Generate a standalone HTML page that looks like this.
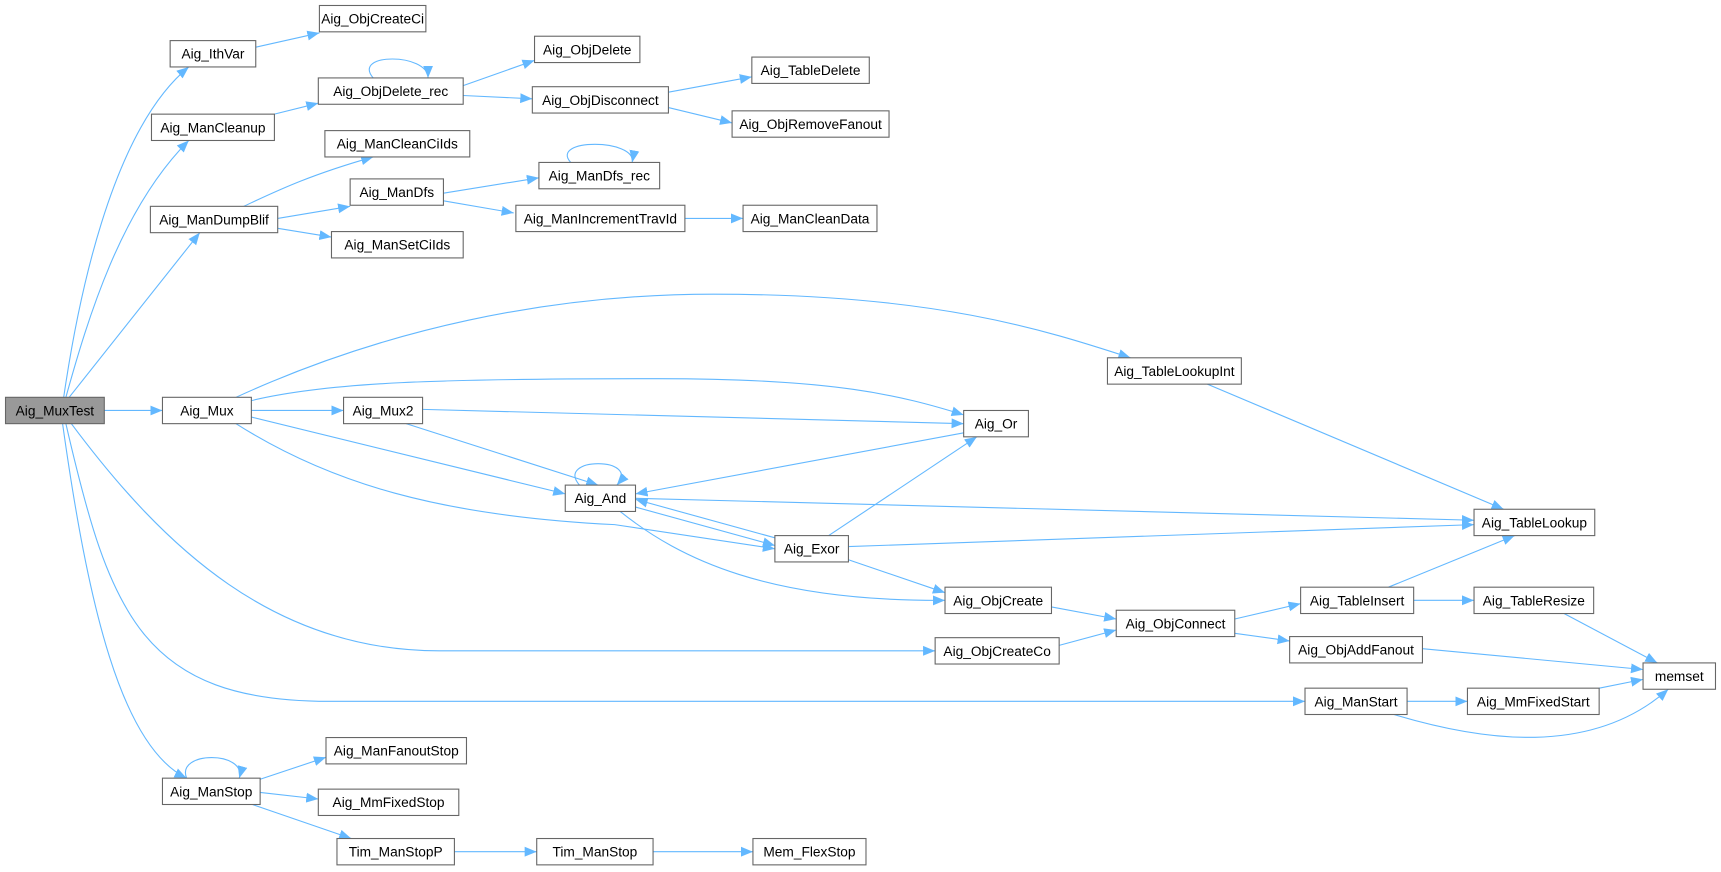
<!DOCTYPE html>
<html><head><meta charset="utf-8"><style>
html,body{margin:0;padding:0;background:#fff;}
svg{display:block;}
text{font-family:"Liberation Sans",Arial,sans-serif;font-size:12.5px;fill:#000;}
.n{fill:#fff;stroke:#666;stroke-width:1;}
.e{fill:none;stroke:#63b8ff;stroke-width:1;marker-end:url(#a);}
</style></head><body>
<svg width="1721" height="872" viewBox="0 0 1568 794.5" xmlns="http://www.w3.org/2000/svg">
<defs><marker id="a" markerUnits="userSpaceOnUse" markerWidth="12" markerHeight="10" refX="11" refY="5" orient="auto"><path d="M0,0.5 L11,5 L0,9.5 z" fill="#63b8ff"/></marker></defs>
<g>
<path class="e" d="M58,362 C70,280 100,120 172,61"/>
<path class="e" d="M60,362 C80,290 110,190 172,128"/>
<path class="e" d="M63,362 L182,212"/>
<path class="e" d="M95,374 L148,374"/>
<path class="e" d="M65,386 C150,500 250,593 400,593 L852,593"/>
<path class="e" d="M60,386 C100,560 130,639 300,639 L1189,639"/>
<path class="e" d="M57,386 C80,550 110,680 170,709"/>
<path class="e" d="M233,43 L291,30"/>
<path class="e" d="M250,104 L290,94"/>
<path class="e" d="M340,71 C320,48 390,48 390,71"/>
<path class="e" d="M422,78 L487,55"/>
<path class="e" d="M422,87 L485,90"/>
<path class="e" d="M609,84 L685,70"/>
<path class="e" d="M609,98 L667,112"/>
<path class="e" d="M222,188 C250,175 280,160 340,143"/>
<path class="e" d="M253,199 L319,188"/>
<path class="e" d="M253,208 L302,216"/>
<path class="e" d="M404,176 L491,162"/>
<path class="e" d="M520,148 C500,126 580,126 576,148"/>
<path class="e" d="M404,183 L468,194"/>
<path class="e" d="M624,199 L677,199"/>
<path class="e" d="M215,362 C350,300 500,268 650,268 C850,268 950,300 1030,326"/>
<path class="e" d="M229,365 C300,348 400,345 600,345 C760,345 820,360 878,378"/>
<path class="e" d="M229,374 L313,374"/>
<path class="e" d="M229,380 L515,450"/>
<path class="e" d="M215,386 C300,440 400,470 560,478 L706,500"/>
<path class="e" d="M385,373 L878,386"/>
<path class="e" d="M370,386 L545,442"/>
<path class="e" d="M880,394 L579,450"/>
<path class="e" d="M528,442 C505,416 585,416 562,442"/>
<path class="e" d="M579,462 L706,497"/>
<path class="e" d="M706,490 L579,455"/>
<path class="e" d="M579,454 L1343,474"/>
<path class="e" d="M755,488 L890,398"/>
<path class="e" d="M773,498 L1343,478"/>
<path class="e" d="M773,510 L861,540"/>
<path class="e" d="M565,466 C620,510 700,548 861,547"/>
<path class="e" d="M958,553 L1017,564"/>
<path class="e" d="M965,588 L1017,574"/>
<path class="e" d="M1125,564 L1185,550"/>
<path class="e" d="M1125,577 L1175,584"/>
<path class="e" d="M1265,535 L1380,488"/>
<path class="e" d="M1288,547 L1343,547"/>
<path class="e" d="M1425,559 L1510,604"/>
<path class="e" d="M1296,591 L1497,610"/>
<path class="e" d="M1282,639 L1337,639"/>
<path class="e" d="M1457,627 L1497,619"/>
<path class="e" d="M1270,651 C1350,675 1450,690 1520,628"/>
<path class="e" d="M1100,350 L1370,464"/>
<path class="e" d="M170,709 C160,684 225,684 218,709"/>
<path class="e" d="M237,710 L297,690"/>
<path class="e" d="M237,722 L290,728"/>
<path class="e" d="M230,733 L320,764"/>
<path class="e" d="M414,776 L489,776"/>
<path class="e" d="M595,776 L686,776"/>
</g>
<g text-anchor="middle">
<rect x="5" y="362" width="90" height="24" fill="#999" stroke="#666"/><text x="50" y="378.5">Aig_MuxTest</text>
<rect class="n" x="155" y="37" width="78" height="24"/><text x="194" y="53.5">Aig_IthVar</text>
<rect class="n" x="291" y="5" width="97" height="24"/><text x="339.5" y="21.5">Aig_ObjCreateCi</text>
<rect class="n" x="138" y="104" width="112" height="24"/><text x="194" y="120.5">Aig_ManCleanup</text>
<rect class="n" x="290" y="71" width="132" height="24"/><text x="356" y="87.5">Aig_ObjDelete_rec</text>
<rect class="n" x="487" y="33" width="96" height="24"/><text x="535" y="49.5">Aig_ObjDelete</text>
<rect class="n" x="485" y="79" width="124" height="24"/><text x="547" y="95.5">Aig_ObjDisconnect</text>
<rect class="n" x="685" y="52" width="107" height="24"/><text x="738.5" y="68.5">Aig_TableDelete</text>
<rect class="n" x="667" y="101" width="143" height="24"/><text x="738.5" y="117.5">Aig_ObjRemoveFanout</text>
<rect class="n" x="296" y="119" width="132" height="24"/><text x="362" y="135.5">Aig_ManCleanCiIds</text>
<rect class="n" x="137" y="188" width="116" height="24"/><text x="195" y="204.5">Aig_ManDumpBlif</text>
<rect class="n" x="319" y="163" width="85" height="24"/><text x="361.5" y="179.5">Aig_ManDfs</text>
<rect class="n" x="302" y="211" width="120" height="24"/><text x="362" y="227.5">Aig_ManSetCiIds</text>
<rect class="n" x="491" y="148" width="110" height="24"/><text x="546" y="164.5">Aig_ManDfs_rec</text>
<rect class="n" x="470" y="187" width="154" height="24"/><text x="547" y="203.5">Aig_ManIncrementTravId</text>
<rect class="n" x="677" y="187" width="122" height="24"/><text x="738" y="203.5">Aig_ManCleanData</text>
<rect class="n" x="1009" y="326" width="122" height="24"/><text x="1070" y="342.5">Aig_TableLookupInt</text>
<rect class="n" x="148" y="362" width="81" height="24"/><text x="188.5" y="378.5">Aig_Mux</text>
<rect class="n" x="313" y="362" width="72" height="24"/><text x="349" y="378.5">Aig_Mux2</text>
<rect class="n" x="878" y="374" width="59" height="24"/><text x="907.5" y="390.5">Aig_Or</text>
<rect class="n" x="515" y="442" width="64" height="24"/><text x="547" y="458.5">Aig_And</text>
<rect class="n" x="706" y="488" width="67" height="24"/><text x="739.5" y="504.5">Aig_Exor</text>
<rect class="n" x="1343" y="464" width="110" height="24"/><text x="1398" y="480.5">Aig_TableLookup</text>
<rect class="n" x="861" y="535" width="97" height="24"/><text x="909.5" y="551.5">Aig_ObjCreate</text>
<rect class="n" x="1017" y="556" width="108" height="24"/><text x="1071" y="572.5">Aig_ObjConnect</text>
<rect class="n" x="1185" y="535" width="103" height="24"/><text x="1236.5" y="551.5">Aig_TableInsert</text>
<rect class="n" x="1343" y="535" width="109" height="24"/><text x="1397.5" y="551.5">Aig_TableResize</text>
<rect class="n" x="852" y="581" width="113" height="24"/><text x="908.5" y="597.5">Aig_ObjCreateCo</text>
<rect class="n" x="1175" y="580" width="121" height="24"/><text x="1235.5" y="596.5">Aig_ObjAddFanout</text>
<rect class="n" x="1497" y="604" width="66" height="24"/><text x="1530" y="620.5">memset</text>
<rect class="n" x="1189" y="627" width="93" height="24"/><text x="1235.5" y="643.5">Aig_ManStart</text>
<rect class="n" x="1337" y="627" width="120" height="24"/><text x="1397" y="643.5">Aig_MmFixedStart</text>
<rect class="n" x="148" y="709" width="89" height="24"/><text x="192.5" y="725.5">Aig_ManStop</text>
<rect class="n" x="297" y="672" width="128" height="24"/><text x="361" y="688.5">Aig_ManFanoutStop</text>
<rect class="n" x="290" y="719" width="128" height="24"/><text x="354" y="735.5">Aig_MmFixedStop</text>
<rect class="n" x="307" y="764" width="107" height="24"/><text x="360.5" y="780.5">Tim_ManStopP</text>
<rect class="n" x="489" y="764" width="106" height="24"/><text x="542" y="780.5">Tim_ManStop</text>
<rect class="n" x="686" y="764" width="103" height="24"/><text x="737.5" y="780.5">Mem_FlexStop</text>
</g>
</svg>
</body></html>
